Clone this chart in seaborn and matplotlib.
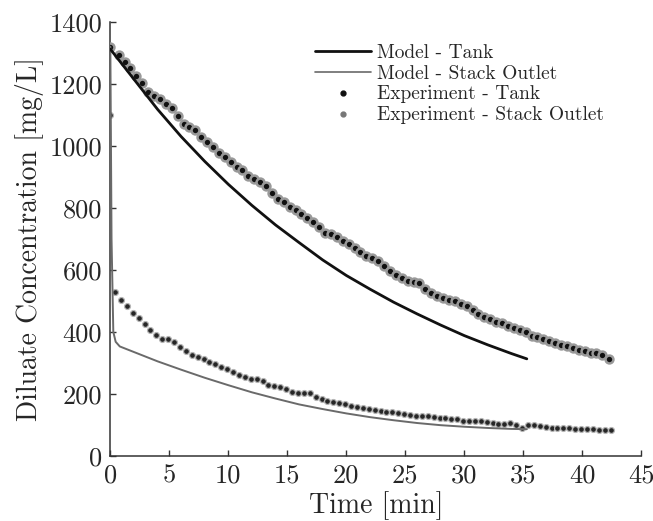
import numpy as np
import pandas as pd
import matplotlib
matplotlib.use("Agg")
import matplotlib.pyplot as plt
from matplotlib.lines import Line2D
import seaborn as sns

# ---------------- data ----------------
model_tank_t = [0, 2, 4, 6, 8, 10, 12, 14, 16, 18, 20, 22, 24, 26, 28, 30, 32, 34, 35.3]
model_tank_c = [1312, 1215, 1118, 1030, 950, 876, 808, 745, 688, 632, 582, 538, 496, 458, 422, 388, 358, 330, 313]

model_stack_t = [0, 0.1, 0.25, 0.45, 0.8, 2, 4, 6, 8, 10, 12, 14, 16, 18, 20, 22, 24, 26, 28, 30, 32, 34, 35.3]
model_stack_c = [1320, 700, 400, 368, 353, 335, 305, 278, 252, 228, 205, 185, 166, 151, 137, 125, 115, 106, 99, 94, 90, 87, 86]

exp_tank_t = [0.0, 0.7, 1.2, 1.7, 2.2, 2.7, 3.2, 3.7, 4.2, 4.7, 5.2, 5.7, 6.2, 6.7, 7.2, 7.7, 8.2, 8.7,
              9.2, 9.7, 10.2, 10.7, 11.2, 11.7, 12.2, 12.7, 13.2, 13.7, 14.2, 14.7, 15.2, 15.7, 16.2,
              16.7, 17.2, 17.7, 18.2, 18.7, 19.2, 19.7, 20.2, 20.7, 21.2, 21.7, 22.2, 22.7, 23.2, 23.7,
              24.2, 24.7, 25.2, 25.7, 26.2, 26.7, 27.2, 27.7, 28.2, 28.7, 29.2, 29.7, 30.2, 30.7, 31.2,
              31.7, 32.2, 32.7, 33.2, 33.7, 34.2, 34.7, 35.2, 35.7, 36.2, 36.7, 37.2, 37.7, 38.2, 38.7,
              39.2, 39.7, 40.2, 40.7, 41.2, 41.7, 42.3]
exp_tank_c = [1318, 1294, 1272, 1251, 1224, 1204, 1175, 1162, 1152, 1135, 1122, 1095, 1071, 1062, 1052,
              1030, 1014, 996, 978, 965, 949, 933, 923, 904, 894, 882, 869, 847, 828, 818, 804, 794, 781,
              767, 753, 738, 720, 716, 705, 694, 682, 670, 659, 646, 638, 629, 613, 597, 584, 575, 565,
              561, 557, 539, 527, 516, 509, 503, 498, 490, 482, 469, 458, 449, 441, 433, 428, 420, 414,
              406, 401, 387, 383, 377, 372, 365, 358, 353, 347, 342, 339, 333, 331, 326, 312]

exp_stack_t = [0.0, 0.4, 0.9, 1.4, 1.9, 2.4, 2.9, 3.4, 3.9, 4.4, 4.9, 5.4, 5.9, 6.4, 6.9, 7.4, 7.9, 8.4,
               8.9, 9.4, 9.9, 10.4, 10.9, 11.4, 11.9, 12.4, 12.9, 13.4, 13.9, 14.4, 14.9, 15.4, 15.9,
               16.4, 16.9, 17.4, 17.9, 18.4, 18.9, 19.4, 19.9, 20.4, 20.9, 21.4, 21.9, 22.4, 22.9, 23.4,
               23.9, 24.4, 24.9, 25.4, 25.9, 26.4, 26.9, 27.4, 27.9, 28.4, 28.9, 29.4, 29.9, 30.4, 30.9,
               31.4, 31.9, 32.4, 32.9, 33.4, 33.9, 34.4, 34.9, 35.4, 35.9, 36.4, 36.9, 37.4, 37.9, 38.4,
               38.9, 39.4, 39.9, 40.4, 40.9, 41.4, 41.9, 42.4]
exp_stack_c = [1100, 530, 503, 482, 462, 444, 425, 406, 390, 376, 376, 366, 351, 339, 325, 318, 312, 304,
               296, 288, 281, 272, 262, 253, 248, 247, 242, 229, 226, 222, 215, 205, 202, 202, 202, 191,
               184, 178, 175, 172, 167, 162, 159, 156, 152, 148, 145, 143, 142, 138, 135, 132, 130, 129,
               129, 125, 122, 122, 118, 118, 114, 111, 113, 111, 109, 105, 102, 103, 105, 100, 91, 98,
               98, 95, 92, 91, 91, 89, 89, 87, 87, 87, 86, 84, 84, 82]

x_ticks = [0, 5, 10, 15, 20, 25, 30, 35, 40, 45]
y_ticks = [0, 200, 400, 600, 800, 1000, 1200, 1400]

labels = ["Model - Tank", "Model - Stack Outlet", "Experiment - Tank", "Experiment - Stack Outlet"]

# ---------------- style ----------------
sns.set_style("ticks")
plt.rcParams["font.family"] = ["cmr10", "DejaVu Serif"]
plt.rcParams["axes.formatter.use_mathtext"] = True
plt.rcParams["mathtext.fontset"] = "cm"

fig = plt.figure(figsize=(6.53, 5.21), dpi=100)
ax = fig.add_axes([0.169, 0.125, 0.813, 0.833])

df_mt = pd.DataFrame({"t": model_tank_t, "c": model_tank_c})
df_ms = pd.DataFrame({"t": model_stack_t, "c": model_stack_c})
df_et = pd.DataFrame({"t": exp_tank_t, "c": exp_tank_c})
df_es = pd.DataFrame({"t": exp_stack_t, "c": exp_stack_c})

sns.scatterplot(data=df_et, x="t", y="c", ax=ax, s=32, color="#111111", edgecolor="#999999",
                linewidth=1.8, zorder=3)
sns.scatterplot(data=df_es, x="t", y="c", ax=ax, s=18, color="#262626", edgecolor="#b5b5b5",
                linewidth=0.9, zorder=3)
sns.lineplot(data=df_ms, x="t", y="c", ax=ax, color="#6a6a6a", lw=1.4, estimator=None, sort=False, zorder=4)
sns.lineplot(data=df_mt, x="t", y="c", ax=ax, color="#111111", lw=2.0, estimator=None, sort=False, zorder=5)

ax.set_xlim(0, 45)
ax.set_ylim(0, 1400)
ax.set_xticks(x_ticks)
ax.set_yticks(y_ticks)
ax.set_xticklabels([str(v) for v in x_ticks])
ax.set_yticklabels([str(v) for v in y_ticks])
ax.tick_params(direction="in", length=4, width=1.0, color="#333333", labelsize=19, pad=6)
for side in ["top", "right"]:
    ax.spines[side].set_visible(False)
for side in ["left", "bottom"]:
    ax.spines[side].set_linewidth(1.1)
    ax.spines[side].set_color("#333333")

ax.set_xlabel("Time [min]", fontsize=20, labelpad=2)
ax.set_ylabel("Diluate Concentration [mg/L]", fontsize=20, labelpad=4)

handles = [
    Line2D([], [], color="#111111", lw=2.0),
    Line2D([], [], color="#6a6a6a", lw=1.2),
    Line2D([], [], color="none", marker="o", markersize=3.5, markerfacecolor="#111111",
           markeredgecolor="#111111"),
    Line2D([], [], color="none", marker="o", markersize=3.5, markerfacecolor="#777777",
           markeredgecolor="#777777"),
]
ax.legend(handles, labels, loc="upper left", bbox_to_anchor=(0.367, 0.972), frameon=False,
          fontsize=14, handlelength=2.9, handletextpad=0.3, labelspacing=0.15, borderpad=0)

fig.savefig("out.png", dpi=100)
